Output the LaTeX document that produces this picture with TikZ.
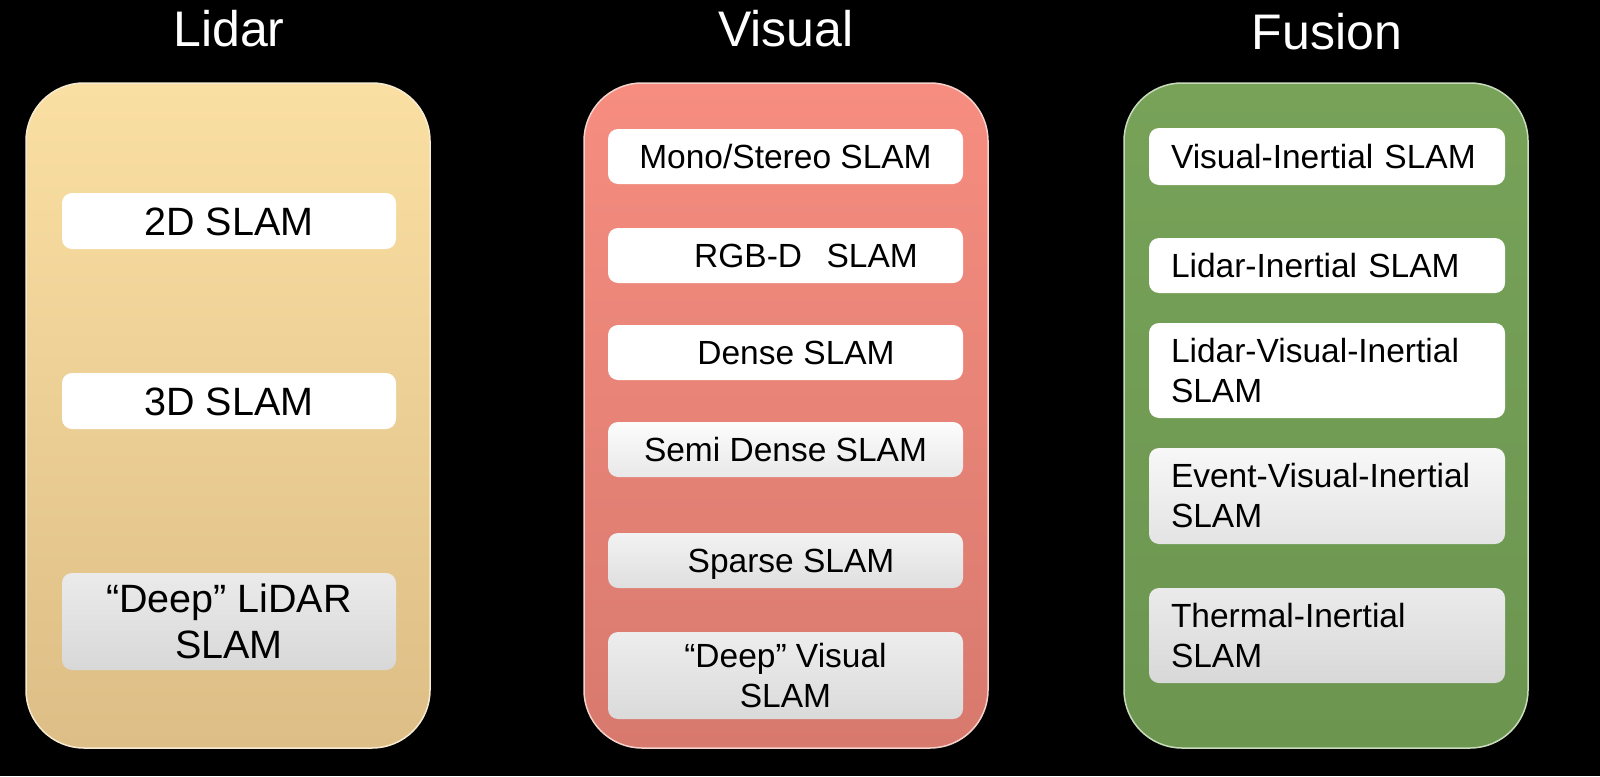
\documentclass[tikz,border=0pt]{standalone}
\usepackage{fontspec}
\setmainfont{Liberation Sans}
\definecolor{lidarTop}{HTML}{FADFA2}
\definecolor{lidarBot}{HTML}{DDBE86}
\definecolor{lidarEdge}{HTML}{F6EAD0}
\definecolor{visTop}{HTML}{F68D80}
\definecolor{visBot}{HTML}{D8796E}
\definecolor{visEdge}{HTML}{F4D2CC}
\definecolor{fusTop}{HTML}{77A258}
\definecolor{fusBot}{HTML}{6C9650}
\definecolor{fusEdge}{HTML}{C9DBBC}
\begin{document}
\begin{tikzpicture}[x=1pt,y=-1pt,
  panel/.style={line width=1.5pt, rounded corners=58pt, minimum width=404pt, minimum height=665pt, inner sep=0pt},
  title/.style={text=white, font=\fontsize{50}{60}\selectfont, anchor=base, inner sep=0pt},
  itembox/.style={rounded corners=10pt, inner sep=0pt, minimum height=55pt, text=black, font=\fontsize{33.5}{40}\selectfont},
  lbox/.style={itembox, minimum width=334pt, font=\fontsize{39.5}{46}\selectfont, align=center},
  vbox/.style={itembox, minimum width=355pt, align=center},
  fbox/.style={itembox, text width=312pt, inner xsep=22pt, align=left},
  one/.style={text height=#1, text depth=0pt},
  plain/.style={fill=white},
  grey/.style={top color=#1, bottom color=#1!92!black}
]
\fill[black] (0,0) rectangle (1600,776);

% titles
\node[title] (tl) at (229,47) {Lidar};
\node[title] (tv) at (786,47) {Visual};
\node[title] (tf) at (1327,49) {Fusion};

% panels
\node[panel, top color=lidarTop, bottom color=lidarBot, draw=lidarEdge] (lidar) at (228,415.5) {};
\node[panel, top color=visTop, bottom color=visBot, draw=visEdge] (visual) at (786,415.5) {};
\node[panel, top color=fusTop, bottom color=fusBot, draw=fusEdge] (fusion) at (1326,415.5) {};

% Lidar items
\node[lbox, plain, one=28pt, minimum height=56pt] (l2d) at (229,221) {2D SLAM};
\node[lbox, plain, one=28pt, minimum height=56pt] (l3d) at (229,401) {3D SLAM};
\node[lbox, grey=white!92!black, minimum height=97pt] (ldeep) at (229,621.5) {“Deep” LiDAR\\SLAM};

% Visual items
\node[vbox, plain, one=24pt] (vmono) at (785.5,156.5) {Mono/Stereo SLAM};
\node[vbox, plain, one=24pt] (vrgbd) at (785.5,255.5) {\hspace*{41pt}RGB-D\hspace{0.73em}SLAM};
\node[vbox, plain, one=24pt] (vdense) at (785.5,352.5) {\hspace*{21pt}Dense SLAM};
\node[vbox, grey=white!99!black, one=24pt] (vsemi) at (785.5,449.5) {Semi Dense SLAM};
\node[vbox, grey=white!95!black, one=24pt] (vsparse) at (785.5,560.5) {\hspace*{11pt}Sparse SLAM};
\node[vbox, grey=white!93!black, minimum height=87pt] (vdeep) at (785.5,675.5) {“Deep” Visual\\SLAM};

% Fusion items
\node[fbox, plain, one=24pt, minimum height=57pt] (fvi) at (1327,156.5) {Visual-Inertial SLAM};
\node[fbox, plain, one=24pt] (fli) at (1327,265.5) {Lidar-Inertial SLAM};
\node[fbox, plain, minimum height=95pt] (flvi) at (1327,370.5) {Lidar-Visual-Inertial\\SLAM};
\node[fbox, grey=white!97!black, minimum height=96pt] (fevi) at (1327,496) {Event-Visual-Inertial\\SLAM};
\node[fbox, grey=white!92!black, minimum height=95pt] (fti) at (1327,635.5) {Thermal-Inertial\\SLAM};
\end{tikzpicture}
\end{document}
